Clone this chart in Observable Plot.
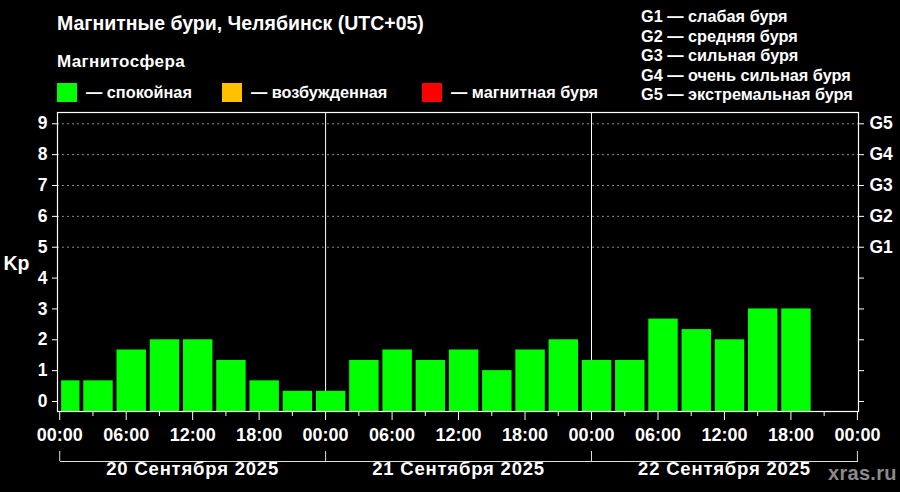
<!DOCTYPE html>
<html>
<head>
<meta charset="utf-8">
<script src="https://cdn.jsdelivr.net/npm/d3@7"></script>
<script src="https://cdn.jsdelivr.net/npm/@observablehq/plot@0.6"></script>
<style>
  html, body { margin: 0; padding: 0; background: #000; }
  #wrap { position: relative; width: 900px; height: 492px; overflow: hidden; background: #000;
          font-family: "Liberation Sans", Arial, sans-serif; font-weight: bold; color: #fff; }
  .abs { position: absolute; white-space: nowrap; line-height: 1; }
  .sw { position: absolute; width: 20px; height: 19px; }
  #chart { position: absolute; left: 0; top: 0; }
  #chart .daylbl text { letter-spacing: 0.8px; }
</style>
</head>
<body>
<div id="wrap">
  <div id="chart"></div>
  <div class="abs" style="left:57px; top:13.8px; font-size:19.5px;">Магнитные бури, Челябинск (UTC+05)</div>
  <div class="abs" style="left:57px; top:52.6px; font-size:17px; letter-spacing:0.4px;">Магнитосфера</div>
  <div id="legend"></div>
  <div id="glegend" class="abs" style="left:641px; top:7.1px; font-size:16.3px; line-height:19.5px;"></div>
  <div class="abs" style="left:828px; top:463px; font-size:20px; letter-spacing:0.3px; color:#8a8a8a;">xras.ru</div>
</div>
<script>
// ---- data ----
const kp = [0.67, 0.67, 1.67, 2, 2, 1.33, 0.67, 0.33,
            0.33, 1.33, 1.67, 1.33, 1.67, 1, 1.67, 2,
            1.33, 1.33, 2.67, 2.33, 2, 3, 3];
const slotHours = 3;          // Kp interval length, hours
const utcOffset = 5;          // local = UTC+05
const dayLabels = ["20 Сентября 2025", "21 Сентября 2025", "22 Сентября 2025"];
const majorTicks = [0, 6, 12, 18, 24, 30, 36, 42, 48, 54, 60, 66, 72];
const minorTicks = [3, 9, 15, 21, 27, 33, 39, 45, 51, 57, 63, 69];
const kpTicks = [0, 1, 2, 3, 4, 5, 6, 7, 8, 9];
const gLevels = [5, 6, 7, 8, 9];
const gLabels = ["G1", "G2", "G3", "G4", "G5"];
const gTexts = ["слабая буря", "средняя буря", "сильная буря", "очень сильная буря", "экстремальная буря"];
const stateNames = ["спокойная", "возбужденная", "магнитная буря"];
const stateColors = ["#00ff00", "#ffc000", "#ff0000"];
const dayStarts = [0, 24, 48, 72];
const dayMids = [12, 36, 60];

// ---- table ----
const bars = kp.map((v, i) => {
  const start = i * slotHours + (utcOffset % slotHours) - slotHours; // local hour of UTC slot start
  return {start: Math.max(start, 0), end: start + slotHours, kp: v};
});
const yDomain = [-0.324, 9.366];

// ---- legend (html) ----
const legendPos = [57, 222, 422];
const legend = document.getElementById("legend");
stateNames.forEach((n, i) => {
  const sw = document.createElement("div");
  sw.className = "sw";
  sw.style.left = legendPos[i] + "px";
  sw.style.top = "83px";
  sw.style.background = stateColors[i];
  legend.appendChild(sw);
  const t = document.createElement("div");
  t.className = "abs";
  t.style.left = (legendPos[i] + 29) + "px";
  t.style.top = "84.3px";
  t.style.fontSize = "16.3px";
  t.textContent = "— " + n;
  legend.appendChild(t);
});
document.getElementById("glegend").innerHTML =
  gLabels.map((g, i) => g + " — " + gTexts[i]).join("<br>");

// ---- chart ----
const fmt = h => String(h % 24).padStart(2, "0") + ":00";
const chart = Plot.plot({
  width: 900,
  height: 492,
  marginTop: 112,
  marginBottom: 81,
  marginLeft: 57,
  marginRight: 42,
  style: {background: "#000", color: "#fff", fontFamily: "Liberation Sans, Arial, sans-serif",
          fontWeight: "bold", fontSize: "17px", overflow: "visible"},
  x: {domain: [-0.2, 72.1], axis: null},
  y: {domain: yDomain, axis: null},
  marks: [
    Plot.ruleY(gLevels, {stroke: "#8a8a8a", strokeDasharray: "2,3", strokeWidth: 1}),
    Plot.ruleX([24, 48], {stroke: "#fff", strokeWidth: 1}),
    Plot.rect(bars, {x1: "start", x2: "end", y1: yDomain[0], y2: "kp", fill: stateColors[0],
                     insetLeft: 1.9, insetRight: 1.9}),
    Plot.frame({stroke: "#fff", strokeWidth: 1.2}),
    Plot.axisY(kpTicks, {anchor: "left", tickSize: 5, tickPadding: 5, label: null,
                         stroke: "#fff", fontSize: 17.5}),
    Plot.axisY(kpTicks, {anchor: "right", tickSize: 5, tickPadding: 6, label: null,
                         tickFormat: d => gLabels[gLevels.indexOf(d)] ?? "",
                         stroke: "#fff", fontSize: 17.5}),
    Plot.axisX(majorTicks, {anchor: "bottom", tickSize: 9, tickPadding: 8, label: null,
                            tickFormat: fmt, stroke: "#fff", fontSize: 18}),
    Plot.axisX(minorTicks, {anchor: "bottom", tickSize: 5, label: null,
                            tickFormat: () => "", stroke: "#fff"}),
    Plot.ruleX(dayStarts, {dy: 50, insetTop: 289, stroke: "#ddd"}),
    Plot.frame({anchor: "bottom", dy: 50, insetLeft: 3, insetRight: 1, stroke: "#ddd"}),
    Plot.text(dayLabels, {x: (d, i) => dayMids[i], text: d => d, frameAnchor: "bottom", dy: 63,
                          fill: "#fff", fontSize: 18.5, fontWeight: "bold", className: "daylbl"}),
    Plot.text(["Kp"], {frameAnchor: "left", dx: -54, dy: 2, textAnchor: "start",
                       fill: "#fff", fontSize: 19.5, fontWeight: "bold"})
  ]
});
document.getElementById("chart").appendChild(chart);
</script>
</body>
</html>
